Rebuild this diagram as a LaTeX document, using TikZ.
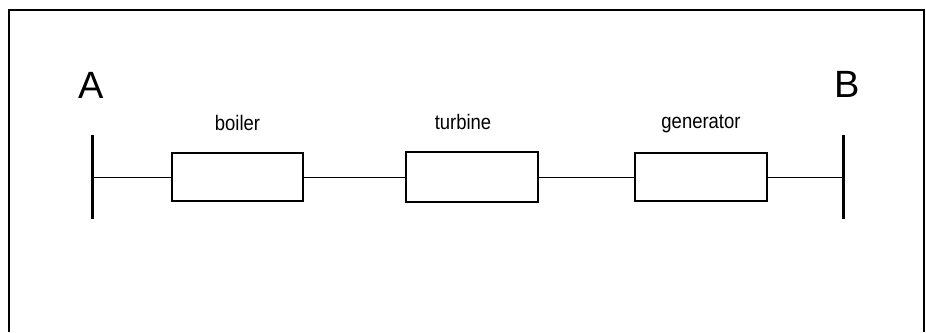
\documentclass[tikz,border=0pt]{standalone}
\usepackage{fontspec}
\setmainfont{Liberation Sans}
\newfontfamily\lblfont[FakeStretch=0.88]{Liberation Sans}
\usetikzlibrary{positioning, calc}

\begin{document}
\begin{tikzpicture}[
  x=1pt, y=-1pt,
  unit/.style={rectangle, draw, line width=1.5pt, minimum width=131pt, minimum height=48pt, inner sep=0pt},
  lbl/.style={anchor=base, inner sep=0pt, font=\lblfont\fontsize{21}{24}\selectfont},
  buslbl/.style={anchor=base, inner sep=0pt, font=\fontsize{38}{44}\selectfont},
  bar/.style={line width=3pt},
  wire/.style={line width=1pt}
]
\useasboundingbox (0,0) rectangle (926,332);

% frame
\draw [line width=1.5pt] (9,332) -- (9,10) -- (924,10) -- (924,332);

% buses
\coordinate (atop) at (92,135);
\coordinate (abot) at (92,219);
\coordinate (amid) at (92,177);
\coordinate (btop) at (843,135);
\coordinate (bbot) at (843,219);
\coordinate (bmid) at (843,177);
\draw [bar] (atop) -- (abot);
\draw [bar] (btop) -- (bbot);
\node (a) [buslbl] at (91,98) {A};
\node (b) [buslbl] at (847,97) {B};

% units
\node (boiler) [unit] at (237.5,177) {};
\node (turbine) [unit, minimum width=132pt, minimum height=50pt] at (472,177) {};
\node (generator) [unit, minimum width=132pt] at (701,177) {};

\node (boilerlbl) [lbl] at ($(boiler.north)+(0,-22)$) {boiler};
\node (turbinelbl) [lbl] at ($(turbine.north)+(-9,-22)$) {turbine};
\node (generatorlbl) [lbl] at ($(generator.north)+(0,-24)$) {generator};

% connections
\draw [wire] (amid) -- (boiler.west);
\draw [wire] (boiler.east) -- (turbine.west);
\draw [wire] (turbine.east) -- (generator.west);
\draw [wire] (generator.east) -- (bmid);

\end{tikzpicture}
\end{document}
